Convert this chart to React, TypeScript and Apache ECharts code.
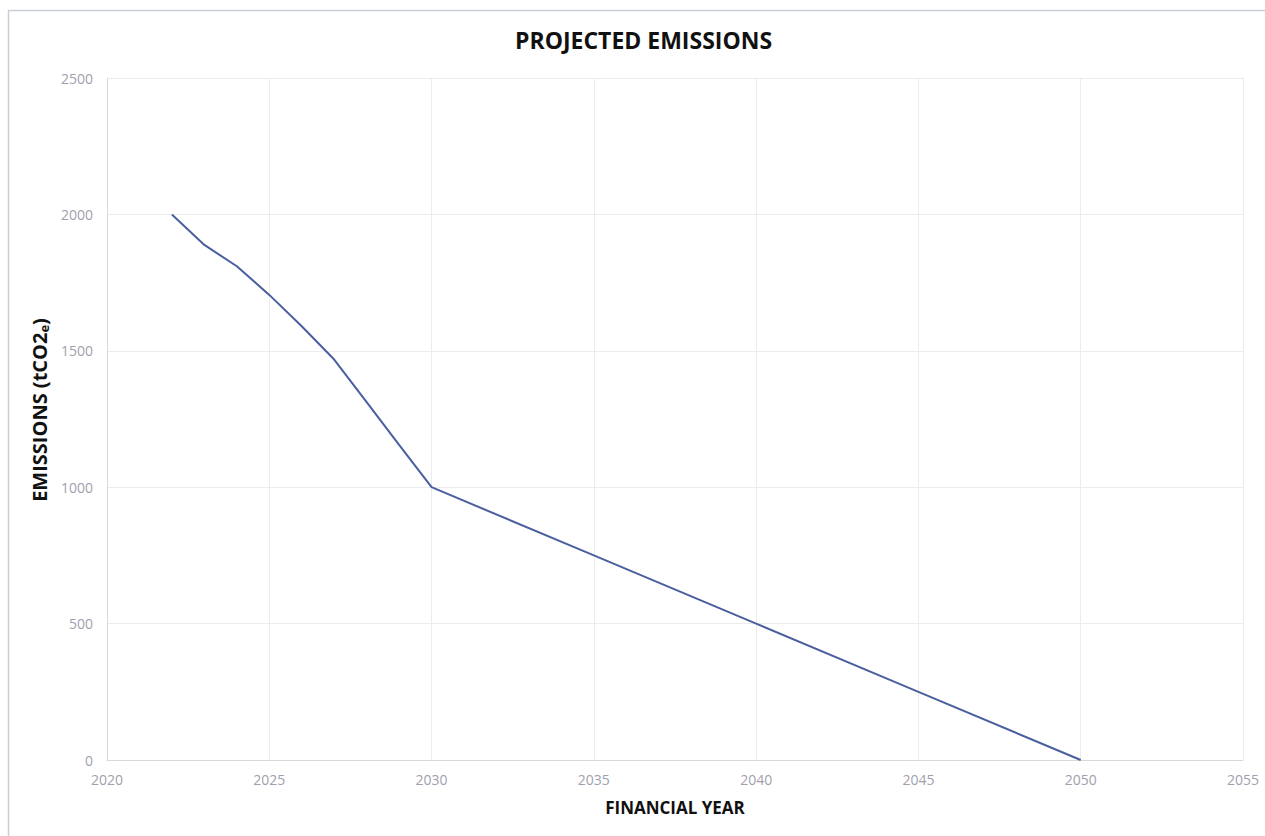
import React, { useEffect, useRef } from "react";
import * as echarts from "echarts";

const years = [2022, 2023, 2024, 2025, 2026, 2027, 2028, 2029, 2030, 2035, 2040, 2045, 2050];
const emissions = [2000, 1888, 1810, 1705, 1590, 1468, 1312, 1155, 1000, 750, 500, 250, 0];
const xTicks = [2020, 2025, 2030, 2035, 2040, 2045, 2050, 2055];
const yTicks = [0, 500, 1000, 1500, 2000, 2500];

export default function App() {
  const ref = useRef<HTMLDivElement>(null);
  useEffect(() => {
    document.body.style.margin = "0";
    const chart = echarts.init(ref.current!, null, { renderer: "svg" });
    const font = "'Open Sans', 'Noto Sans', sans-serif";
    chart.setOption({
      animation: false,
      backgroundColor: "#ffffff",
      title: {
        text: "PROJECTED EMISSIONS",
        left: 510,
        top: 23,
        textStyle: { fontFamily: font, fontSize: 23, fontWeight: "bold", color: "#111" },
      },
      graphic: [
        {
          type: "rect",
          shape: { x: 8.5, y: 10.5, width: 1270, height: 840 },
          style: { fill: "none", stroke: "#c8cdd6", lineWidth: 1.5 },
          silent: true,
        },
      ],
      grid: { left: 107, right: 22, top: 78, bottom: 76 },
      xAxis: {
        type: "value",
        min: xTicks[0],
        max: xTicks[xTicks.length - 1],
        interval: 5,
        name: "FINANCIAL YEAR",
        nameLocation: "middle",
        nameGap: 39,
        nameTextStyle: { fontFamily: font, fontSize: 17, fontWeight: "bold", color: "#111" },
        axisLine: { show: true, lineStyle: { color: "#d9d9d9" } },
        axisTick: { show: false },
        axisLabel: {
          fontFamily: font,
          fontSize: 14,
          color: "#a0a0ae",
          margin: 12,
          formatter: (v: number) => String(v),
        },
        splitLine: { show: true, lineStyle: { color: "#ececec" } },
      },
      yAxis: {
        type: "value",
        min: yTicks[0],
        max: yTicks[yTicks.length - 1],
        interval: 500,
        name: "EMISSIONS (tCO2{sub|e})",
        nameLocation: "middle",
        nameGap: 53,
        nameTextStyle: {
          fontFamily: font,
          fontSize: 20,
          fontWeight: "bold",
          color: "#111",
          padding: [0, 0, 0, 18],
          rich: {
            sub: {
              fontFamily: font,
              fontSize: 13,
              fontWeight: "bold",
              color: "#111",
              verticalAlign: "bottom",
              padding: [8, 0, 0, 0],
            },
          },
        },
        axisLine: { show: true, lineStyle: { color: "#d9d9d9" } },
        axisTick: { show: false },
        axisLabel: {
          fontFamily: font,
          fontSize: 14,
          color: "#a0a0ae",
          margin: 14,
          formatter: (v: number) => String(v),
        },
        splitLine: { show: true, lineStyle: { color: "#ececec" } },
      },
      series: [
        {
          type: "line",
          data: years.map((y, i) => [y, emissions[i]]),
          showSymbol: false,
          lineStyle: { color: "#4a5f9f", width: 2 },
          itemStyle: { color: "#4a5f9f" },
        },
      ],
    });
    return () => chart.dispose();
  }, []);
  return <div ref={ref} style={{ width: 1265, height: 836 }} />;
}
